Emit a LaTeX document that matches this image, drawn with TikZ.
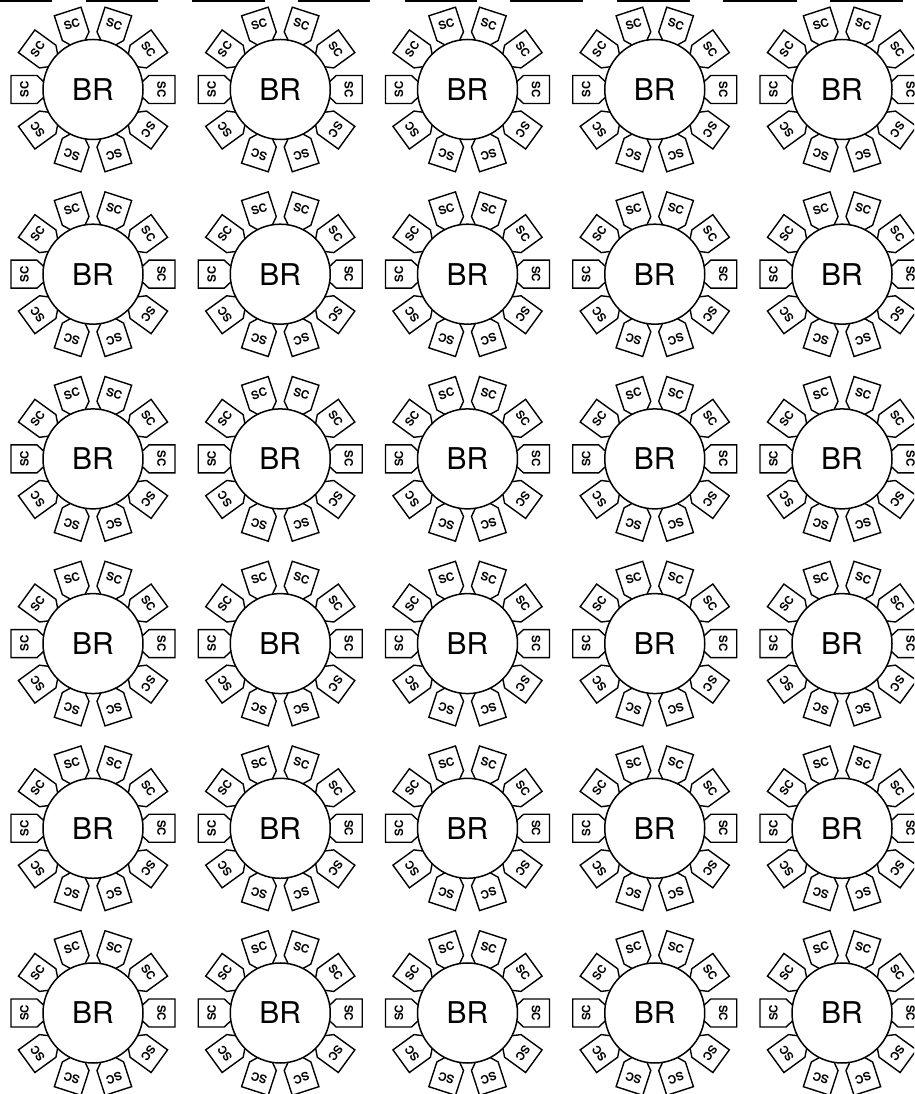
\documentclass[tikz,border=0pt]{standalone}
\usepackage{fontspec}
\setmainfont{TeX Gyre Heros}
\begin{document}
\begin{tikzpicture}[x=1pt,y=1pt,
  ring/.style={line width=1.5pt},
  brtext/.style={inner sep=0pt, font=\fontsize{30}{30}\selectfont},
  scbox/.style={line width=1.4pt, line join=miter},
  sclabel/.style={font=\bfseries\fontsize{11.5}{11.5}\selectfont, inner sep=0pt},
  topbar/.style={fill=black}]
\useasboundingbox (0,0) rectangle (914,1094);
\clip (0,0) rectangle (914,1094);
\fill[white] (0,0) rectangle (914,1094);
\foreach \xa/\xb in {0/52,86/158,192/265,298/370,405/477,510/583,617/690,723/797,830/903}
  \fill[topbar] (\xa,1094) rectangle (\xb,1091.6);
\foreach \c in {0,...,4} {
  \foreach \r in {0,...,5} {
    \pgfmathsetmacro\cx{93+187.25*\c}
    \pgfmathsetmacro\cy{1094-89.5-184.7*\r}
    \node[brtext] (BR-\r-\c) at (\cx,\cy) {BR};
    \draw[ring] (BR-\r-\c.center) circle[radius=50];
    \foreach \k in {0,...,9} {
      \pgfmathsetmacro\ang{36*\k}
      \pgfmathsetmacro\rot{36*\k-90}
      \begin{scope}[shift={(\cx,\cy)}, rotate=\ang]
        \draw[scbox] (49.6,8) -- (56,14) -- (82,14) -- (82,-14) -- (56,-14) -- (49.6,-8);
        \node[sclabel, rotate=\rot] (SC-\r-\c-\k) at (68.5,0) {SC};
      \end{scope}
    }
  }
}
\end{tikzpicture}
\end{document}
